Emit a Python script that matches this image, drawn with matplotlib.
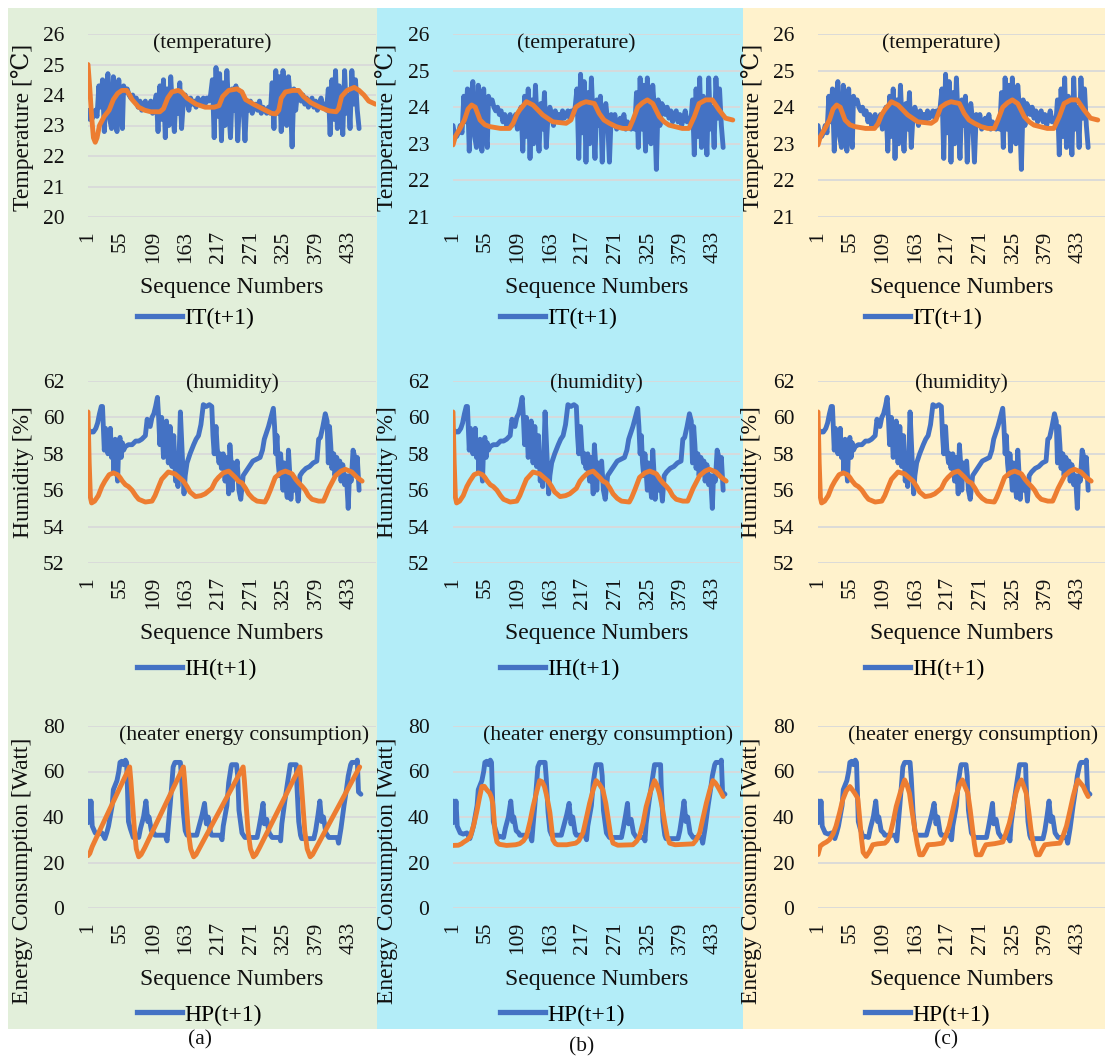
import matplotlib
matplotlib.use('Agg')
import matplotlib.pyplot as plt
from matplotlib.lines import Line2D
from matplotlib.patches import Rectangle

plt.rcParams['font.family'] = ['Liberation Serif', 'DejaVu Serif']

W, H = 1105, 1058

# ---- data: (sequence number, value) ----
IT_ACTUAL = [(1, 23.5), (4, 23.2), (7, 23.2), (10, 23.3), (13, 23.5), (16, 23.3),
             (19, 24.3), (22, 23.6), (25, 24.5), (28, 22.8), (31, 24.2), (34, 24.7), (37, 23.2),
             (40, 22.9), (43, 24.6), (46, 23.5), (49, 22.8), (52, 24.5), (55, 23.3), (58, 22.9),
             (60, 24.3), (63, 24.1), (66, 24.2), (69, 24.0), (72, 23.9), (75, 24.0),
             (78, 23.8), (81, 23.9), (84, 23.6), (87, 23.8), (90, 23.5), (93, 23.7), (96, 23.8),
             (99, 23.5), (102, 23.6), (105, 23.8), (108, 23.4), (111, 23.7),
             (114, 24.0), (117, 22.8), (120, 24.3), (123, 23.2), (126, 24.5), (129, 22.6),
             (132, 24.2), (135, 23.0), (138, 24.6), (141, 23.5), (144, 22.8), (147, 24.1),
             (150, 23.4), (153, 24.4), (156, 22.9), (159, 23.8), (162, 24.0),
             (165, 23.8), (168, 23.5), (171, 23.9), (174, 23.7), (177, 23.8), (180, 23.6),
             (183, 23.9), (186, 23.7), (189, 23.8), (192, 23.9), (195, 23.7), (198, 23.9),
             (201, 23.8), (204, 24.0),
             (207, 24.5), (210, 22.6), (213, 24.9), (216, 23.3), (219, 24.7), (222, 22.5),
             (225, 24.4), (228, 23.0), (231, 24.8), (234, 23.6), (237, 22.6), (240, 24.2),
             (243, 23.5), (246, 24.3), (249, 22.5), (252, 23.9), (255, 24.1), (258, 23.6),
             (261, 22.5),
             (264, 23.8), (267, 23.5), (270, 23.8), (273, 23.4), (276, 23.6), (279, 23.7),
             (282, 23.5), (285, 23.8), (288, 23.4), (291, 23.6), (294, 23.5), (297, 23.4),
             (300, 23.6), (303, 23.4),
             (306, 24.4), (309, 22.9), (312, 24.8), (315, 23.4), (318, 24.6), (321, 22.8),
             (324, 24.8), (327, 23.6), (330, 23.0), (333, 24.6), (336, 23.9), (339, 22.3),
             (342, 24.2), (345, 23.5), (348, 24.1),
             (351, 24.0), (354, 23.8), (357, 24.0), (360, 23.7), (363, 23.9), (366, 23.6),
             (369, 23.8), (372, 23.9), (375, 23.6), (378, 23.8), (381, 23.5), (384, 23.7),
             (387, 23.9), (390, 23.6), (393, 23.7), (396, 23.5),
             (399, 24.2), (402, 22.7), (405, 24.5), (408, 23.2), (411, 24.8), (414, 22.9),
             (417, 24.3), (420, 23.8), (423, 22.7), (426, 24.8), (429, 23.4), (432, 24.0),
             (435, 22.9), (438, 24.8), (441, 23.7), (444, 24.5), (447, 23.5), (450, 22.9)]

IT_PRED_A = [(1, 25.0), (4, 24.2), (7, 23.3), (10, 22.6), (13, 22.45), (16, 22.6), (20, 23.0),
             (28, 23.3), (36, 23.5), (43, 23.85), (50, 24.05), (57, 24.15), (65, 24.15),
             (70, 24.0), (74, 23.85), (85, 23.6), (95, 23.5), (105, 23.45), (120, 23.45),
             (126, 23.55), (133, 23.9), (140, 24.1), (150, 24.15), (156, 24.1), (165, 23.9),
             (180, 23.7), (195, 23.6), (210, 23.6), (218, 23.65), (224, 23.95), (234, 24.15),
             (248, 24.2), (256, 24.1), (262, 23.85), (275, 23.7), (290, 23.55), (305, 23.4),
             (312, 23.38), (317, 23.5), (321, 23.9), (328, 24.1), (340, 24.15), (350, 24.15),
             (358, 23.95), (370, 23.75), (385, 23.6), (400, 23.48), (412, 23.45), (416, 23.55),
             (421, 23.95), (430, 24.15), (442, 24.25), (450, 24.15), (458, 24.0), (466, 23.8),
             (477, 23.7)]

IT_PRED_BC = [(1, 22.97), (5, 23.2), (12, 23.4), (20, 23.65), (26, 23.95), (32, 24.06),
              (38, 24.0), (46, 23.65), (54, 23.52), (62, 23.47), (80, 23.42), (95, 23.42),
              (101, 23.56), (107, 23.8), (112, 23.93), (123, 24.15), (134, 24.06),
              (150, 23.79), (167, 23.6), (189, 23.56), (197, 23.65), (205, 24.0), (214, 24.1),
              (222, 24.15), (236, 24.1), (244, 23.83), (252, 23.65), (261, 23.56),
              (272, 23.47), (283, 23.42), (294, 23.42), (300, 23.65), (308, 24.0),
              (316, 24.12), (324, 24.2), (333, 24.1), (344, 23.74), (352, 23.6), (360, 23.51),
              (382, 23.42), (393, 23.42), (402, 23.74), (410, 24.1), (421, 24.2), (432, 24.2),
              (443, 23.93), (454, 23.7), (466, 23.65)]

IH_ACTUAL = [(1, 58.5), (2, 59.3), (6, 59.2), (10, 59.2), (14, 59.4), (17, 59.7), (20, 60.2),
             (23, 60.6), (25, 60.6), (27, 59.0), (28, 58.2), (30, 59.4), (32, 58.6), (34, 58.0),
             (36, 58.5), (38, 59.4), (40, 57.8), (42, 58.6), (44, 57.0), (46, 58.8), (48, 57.5),
             (50, 56.5), (52, 58.5), (54, 58.9), (56, 57.8), (58, 58.6), (60, 58.2), (63, 58.4),
             (68, 58.5), (74, 58.5), (80, 58.7), (85, 58.7), (90, 58.8), (96, 59.0), (99, 59.9),
             (101, 59.6), (104, 59.5), (107, 60.0), (110, 60.2), (113, 60.6), (116, 61.1),
             (118, 60.0), (120, 58.5), (123, 60.0), (126, 57.8), (128, 58.6), (131, 59.8),
             (134, 57.5), (137, 59.5), (140, 57.3), (143, 59.0), (146, 56.5), (148, 57.5),
             (150, 56.2), (152, 58.0), (154, 60.3), (157, 58.0), (160, 55.8), (162, 56.8),
             (165, 57.5), (170, 58.0), (176, 58.5), (180, 58.8), (184, 59.0), (188, 59.6),
             (192, 60.7), (197, 60.6), (202, 60.7), (206, 60.6),
             (208, 59.0), (210, 58.0), (213, 59.5), (215, 58.3), (218, 57.5), (220, 58.0),
             (222, 57.2), (225, 58.0), (228, 56.5), (231, 57.8), (234, 55.8), (236, 58.5),
             (238, 57.5), (240, 56.0), (242, 57.5), (245, 56.8), (248, 57.6), (251, 56.0),
             (254, 55.5), (258, 56.8), (262, 57.0), (268, 57.3), (274, 57.6), (280, 57.7),
             (286, 57.8), (290, 58.2), (293, 58.8), (297, 59.2), (300, 59.5), (304, 60.0),
             (308, 60.5), (310, 59.5), (312, 58.0), (314, 59.0), (316, 57.5), (318, 56.8),
             (320, 58.0), (322, 57.0), (324, 56.0), (326, 57.5), (328, 56.5), (331, 55.6),
             (333, 58.2), (335, 57.0), (337, 55.5), (340, 56.8), (343, 56.0), (346, 56.5),
             (349, 55.4), (352, 56.8), (356, 57.0), (362, 57.2), (368, 57.3), (374, 57.5),
             (380, 57.6), (383, 58.8), (386, 58.9), (390, 59.5), (394, 60.2), (397, 59.8),
             (399, 57.5), (401, 59.5), (403, 58.5), (405, 57.2), (408, 58.0), (410, 56.8),
             (413, 57.8), (415, 57.0), (418, 57.6), (420, 56.5), (423, 57.4), (426, 56.3),
             (429, 56.8), (432, 55.0), (434, 56.8), (437, 56.5), (440, 58.2), (443, 57.8),
             (445, 57.0), (447, 57.8), (450, 56.0)]

IH_PRED = [(1, 60.3), (3, 57.5), (5, 55.6), (7, 55.3), (12, 55.4), (18, 55.7), (24, 56.2),
           (29, 56.5), (36, 56.85), (43, 56.95), (50, 56.85), (54, 56.7), (58, 56.5),
           (63, 56.3), (68, 56.2), (74, 56.0), (80, 55.7), (85, 55.5), (96, 55.35),
           (107, 55.4), (112, 55.7), (118, 56.2), (123, 56.6), (134, 57.0), (145, 56.9),
           (152, 56.7), (159, 56.5), (165, 56.2), (170, 55.9), (179, 55.65), (188, 55.7),
           (195, 55.8), (206, 56.1), (212, 56.5), (217, 56.7), (225, 56.95), (234, 57.05),
           (245, 56.7), (250, 56.5), (256, 56.4), (262, 56.1), (267, 55.8), (274, 55.55),
           (281, 55.4), (294, 55.35), (298, 55.6), (303, 56.0), (311, 56.7), (320, 56.95),
           (328, 57.05), (339, 56.9), (345, 56.6), (350, 56.4), (356, 56.2), (361, 56.0),
           (366, 55.7), (372, 55.5), (383, 55.4), (391, 55.4), (395, 55.7), (400, 56.1),
           (411, 56.8), (420, 57.05), (427, 57.15), (438, 57.0), (447, 56.7), (455, 56.5)]

HP_ACTUAL = [(1, 37.5), (2, 47), (4, 38), (6, 47), (8, 36), (13, 33), (18, 32.5), (24, 33),
             (29, 30.5), (32, 33), (35, 36), (41, 45), (43, 52), (49, 56), (52, 60), (54, 64),
             (57, 64.5), (60, 63), (63, 65), (65, 64), (68, 38), (71, 35), (76, 31), (79, 31.5),
             (85, 31), (88, 35), (93, 40), (97, 47), (100, 38), (102, 40), (106, 34), (110, 33),
             (112, 32), (129, 32), (132, 29.5), (134, 36), (137, 45), (140, 55), (142, 62),
             (145, 64), (154, 64), (156, 57), (159, 42), (162, 34), (165, 32), (181, 32),
             (184, 35), (190, 41), (194, 46), (197, 37), (200, 40), (204, 33), (206, 32),
             (220, 32), (223, 30), (225, 36), (231, 45), (234, 55), (238, 62), (239, 63),
             (247, 63), (249, 58), (251, 43), (256, 33), (261, 31), (281, 31), (284, 35),
             (288, 41), (291, 46), (293, 37), (297, 39), (301, 33), (306, 31), (319, 31),
             (320, 29.5), (322, 37), (327, 47), (332, 56), (336, 63), (339, 63), (346, 63),
             (347, 54), (350, 38), (353, 32), (355, 30.5), (375, 30.5), (378, 34), (382, 41),
             (385, 47), (388, 38), (391, 40), (395, 33), (400, 31), (414, 31), (416, 28.5),
             (420, 35), (425, 45), (429, 52), (432, 58), (436, 63), (438, 64), (446, 64),
             (447, 65), (449, 51), (453, 50)]

HP_PRED_A = [(1, 23), (4, 24), (8, 27), (15, 31), (70, 62), (72, 56), (75, 45), (78, 34),
             (81, 26), (85, 22.5), (89, 23.5), (95, 26.5), (159, 62), (161, 56), (164, 45),
             (167, 34), (171, 26), (176, 22.5), (180, 23.5), (186, 26.5), (258, 62), (260, 56),
             (263, 45), (266, 34), (270, 26), (275, 22.5), (279, 23.5), (285, 26.5), (352, 62),
             (354, 56), (357, 45), (360, 34), (364, 26), (369, 22.5), (373, 23.5), (379, 26.5),
             (451, 62)]

HP_PRED_B = [(1, 27.5), (10, 27.6), (15, 28.2), (19, 29.0), (25, 30.0), (30, 31.5), (36, 37),
             (41, 43), (45, 48.5), (49, 53.4), (53, 53.5), (57, 52), (62, 50.5), (65, 48.5),
             (67, 46), (69, 40), (71, 33), (74, 29), (78, 28), (90, 27.5), (105, 27.8),
             (112, 28.3), (118, 29.5), (123, 31.5), (129, 38), (134, 44.5), (140, 51),
             (145, 56), (149, 55.5), (153, 53.4), (157, 49), (162, 42), (165, 35), (167, 30),
             (171, 28.3), (175, 27.8), (190, 27.8), (205, 28.5), (210, 29.5), (217, 33),
             (223, 40), (228, 46), (234, 52), (239, 56), (244, 54.5), (250, 52), (255, 46),
             (259, 39), (263, 32), (267, 28.5), (275, 27.6), (300, 27.8), (306, 29.3),
             (311, 31.5), (317, 37.5), (322, 44.5), (329, 51), (336, 56), (340, 54),
             (344, 50.5), (349, 44), (353, 37.3), (357, 31.5), (361, 28.5), (370, 27.8),
             (400, 28.2), (405, 29.8), (411, 33), (416, 39), (422, 46), (428, 52), (433, 56),
             (437, 55), (441, 53.4), (446, 51), (450, 49)]

HP_PRED_C = [(1, 23.5), (3, 25.5), (5, 27.3), (10, 28.3), (15, 29), (20, 30), (26, 32.5),
             (31, 36), (37, 42), (42, 47.5), (48, 51.5), (54, 53.4), (58, 52), (62, 50.5),
             (67, 48.3), (69, 43), (71, 37.3), (73, 31), (76, 24.5), (81, 22.7), (87, 25),
             (92, 27.8), (100, 28.2), (112, 28.5), (116, 29.5), (120, 31.5), (126, 38),
             (131, 44.6), (138, 51), (145, 56.3), (149, 54), (153, 50.5), (157, 43),
             (162, 34.4), (166, 28), (170, 23.4), (175, 23.4), (180, 25.8), (184, 27.8),
             (195, 28.0), (208, 28.5), (213, 31.5), (219, 36), (225, 43), (230, 49), (236, 54),
             (241, 56.3), (245, 53.5), (250, 50.5), (254, 43), (258, 34.4), (261, 28),
             (264, 23.4), (272, 23.4), (276, 25.8), (280, 27.8), (295, 28.3), (308, 29),
             (313, 32.5), (319, 37.3), (325, 44), (330, 50.5), (335, 54.5), (339, 56.3),
             (343, 53.5), (347, 50.5), (351, 43), (355, 34.4), (359, 28), (364, 23.4),
             (369, 23.4), (373, 25.5), (378, 27.8), (390, 28.2), (403, 28.5), (408, 31.5),
             (414, 36), (420, 43), (425, 49), (429, 53), (433, 56.3), (437, 55), (442, 53.4),
             (446, 51), (450, 49)]

seq_ticks = [1, 55, 109, 163, 217, 271, 325, 379, 433]
row_labels = ['Temperature [\u2103]', 'Humidity [%]', 'Energy Consumption [Watt]']
row_titles = ['(temperature)', '(humidity)', '(heater energy consumption)']
legend_names = ['IT(t+1)', 'IH(t+1)', 'HP(t+1)']
panel_names = ['(a)', '(b)', '(c)']
actual = [IT_ACTUAL, IH_ACTUAL, HP_ACTUAL]
predicted = [[IT_PRED_A, IH_PRED, HP_PRED_A],
             [IT_PRED_BC, IH_PRED, HP_PRED_B],
             [IT_PRED_BC, IH_PRED, HP_PRED_C]]
ylims = [[(20, 26), (21, 26), (21, 26)], [(52, 62)] * 3, [(0, 80)] * 3]
ysteps = [1, 2, 20]

BLUE = '#4472C4'
ORANGE = '#ED7D31'
bg_colors = ['#E2EFDA', '#B3EDF8', '#FFF2CC']

# pixel layout
col_bg = [(8, 377), (377, 743), (743, 1105)]
col_plot = [(88, 376), (453, 740), (818, 1105)]
col_ylab = [23, 387, 752]
row_plot = [(34, 217), (381, 563), (726, 908)]
row_ylab_y = [127, 472, 871]
row_xlab_y = [288, 633, 979]
row_leg_y = [318, 669, 1015]
col_leg_x = [137, 500, 865]
title_x = [0.43, 0.5, 0.542]
title_y = [0.95, 0.99, 0.95]
panel_label_pos = [(200, 1040), (582, 1047), (946, 1040)]


def fx(x):
    return x / W


def fy(y):
    return 1 - y / H


fig = plt.figure(figsize=(W / 100, H / 100), dpi=100)

for c in range(3):
    x0, x1 = col_bg[c]
    fig.patches.append(Rectangle((fx(x0), fy(1029)), fx(x1) - fx(x0), fy(8) - fy(1029),
                                 transform=fig.transFigure, facecolor=bg_colors[c],
                                 edgecolor='none', zorder=-10))

for c in range(3):
    px0, px1 = col_plot[c]
    for r in range(3):
        py0, py1 = row_plot[r]
        ax = fig.add_axes([fx(px0), fy(py1), fx(px1) - fx(px0), fy(py0) - fy(py1)])
        ax.set_facecolor('none')
        for s in ax.spines.values():
            s.set_visible(False)

        xs = [p[0] for p in actual[r]]
        ys = [p[1] for p in actual[r]]
        ax.plot(xs, ys, color=BLUE, lw=3.5, solid_joinstyle='round',
                solid_capstyle='round', zorder=3)
        xs = [p[0] for p in predicted[c][r]]
        ys = [p[1] for p in predicted[c][r]]
        ax.plot(xs, ys, color=ORANGE, lw=3.5, solid_joinstyle='round',
                solid_capstyle='round', zorder=4)

        lo, hi = ylims[r][c]
        ax.set_ylim(lo, hi)
        ax.set_yticks(list(range(lo, hi + 1, ysteps[r])))
        ax.set_xlim(1, 478)
        ax.set_xticks(seq_ticks)
        ax.set_xticklabels([str(t) for t in seq_ticks], rotation=90)
        ax.yaxis.grid(True, color='#D9D9D9', lw=1.3)
        ax.set_axisbelow(True)
        ax.tick_params(axis='both', length=0, labelsize=15.5, colors='#111111')
        ax.tick_params(axis='y', pad=17)
        ax.tick_params(axis='x', pad=10)

        ax.text(title_x[r], title_y[r], row_titles[r], transform=ax.transAxes,
                ha='center', va='center', fontsize=15.7, color='#111111', zorder=5)

        fig.text(fx(col_ylab[c]), fy(row_ylab_y[r]), row_labels[r], rotation=90,
                 ha='center', va='center', fontsize=17, color='#111111')
        fig.text(fx((px0 + px1) / 2), fy(row_xlab_y[r]), 'Sequence Numbers',
                 ha='center', va='center', fontsize=17, color='#111111')

        handle = Line2D([0], [0], color=BLUE, lw=3.8)
        fig.legend([handle], [legend_names[r]], loc='center left',
                   bbox_to_anchor=(fx(col_leg_x[c]), fy(row_leg_y[r])),
                   bbox_transform=fig.transFigure, frameon=False, fontsize=17,
                   handlelength=1.9, handletextpad=0.1, borderpad=0, borderaxespad=0)

    lx, ly = panel_label_pos[c]
    fig.text(fx(lx), fy(ly), panel_names[c], ha='center', va='center', fontsize=15.5,
             color='#111111')

fig.savefig('out.png', dpi=100, facecolor='white')
